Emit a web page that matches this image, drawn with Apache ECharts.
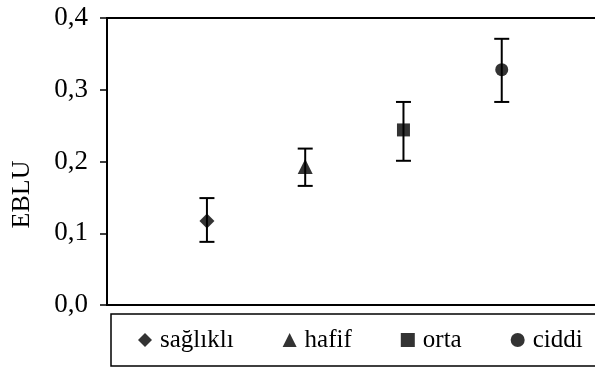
<!DOCTYPE html>
<html>
<head>
<meta charset="utf-8">
<script src="https://cdn.jsdelivr.net/npm/echarts@6/dist/echarts.min.js"></script>
<style>
html,body{margin:0;padding:0;background:#fff;}
#chart{width:595px;height:367px;}
</style>
</head>
<body>
<div id="chart"></div>
<script>
var categories = ['sağlıklı', 'hafif', 'orta', 'ciddi'];
var xPositions = [1, 2, 3, 4];
var means = [0.117, 0.193, 0.244, 0.328];
var upper = [0.149, 0.218, 0.283, 0.371];
var lower = [0.088, 0.166, 0.201, 0.283];
var symbols = ['diamond', 'triangle', 'rect', 'circle'];
var symbolSizes = [[15, 15], [15, 15], [13, 13], [13, 13]];
var yTicks = [0, 0.1, 0.2, 0.3, 0.4];

var FONT = '"Liberation Serif", "Times New Roman", serif';
var chart = echarts.init(document.getElementById('chart'), null, {renderer: 'canvas'});

var errData = categories.map(function (c, i) { return [xPositions[i], lower[i], upper[i]]; });

var series = [{
  type: 'custom',
  name: 'err',
  z: 1,
  data: errData,
  renderItem: function (params, api) {
    var x = api.value(0);
    var lo = api.coord([x, api.value(1)]);
    var hi = api.coord([x, api.value(2)]);
    var hw = 7.5;
    var st = {stroke: '#000', lineWidth: 2};
    return {
      type: 'group',
      children: [
        {type: 'line', shape: {x1: lo[0], y1: lo[1], x2: hi[0], y2: hi[1]}, style: st},
        {type: 'line', shape: {x1: hi[0] - hw, y1: hi[1], x2: hi[0] + hw, y2: hi[1]}, style: st},
        {type: 'line', shape: {x1: lo[0] - hw, y1: lo[1], x2: lo[0] + hw, y2: lo[1]}, style: st}
      ]
    };
  },
  silent: true
}];
categories.forEach(function (c, i) {
  series.push({
    type: 'scatter',
    name: c,
    z: 3,
    symbol: symbols[i],
    symbolSize: symbolSizes[i],
    itemStyle: {color: '#000'},
    data: [[xPositions[i], means[i]]]
  });
});

chart.setOption({
  animation: false,
  backgroundColor: '#fff',
  grid: {
    left: 107, top: 18, width: 493, height: 287,
    outerBoundsMode: 'none', containLabel: false,
    show: true, borderColor: '#000', borderWidth: 2, backgroundColor: 'transparent'
  },
  xAxis: {
    type: 'value', min: -0.017, max: 5,
    axisLine: {show: true, onZero: false, lineStyle: {color: '#000', width: 2}},
    axisTick: {show: false}, axisLabel: {show: false}, splitLine: {show: false}
  },
  yAxis: {
    type: 'value', min: yTicks[0], max: yTicks[yTicks.length - 1], interval: 0.1,
    name: 'EBLU', nameLocation: 'middle', nameGap: 72, nameRotate: 90,
    nameTextStyle: {fontFamily: FONT, fontSize: 26, color: '#000', padding: [0, 66, 0, 0]},
    axisLine: {show: true, onZero: false, lineStyle: {color: '#000', width: 2}},
    axisTick: {show: true, inside: false, length: 7, lineStyle: {color: '#000', width: 1.5}},
    axisLabel: {
      margin: 19, fontFamily: FONT, fontSize: 27, color: '#000',
      formatter: function (v) { return v.toFixed(1).replace('.', ','); }
    },
    splitLine: {show: false}
  },
  graphic: [{
    type: 'polyline', z: 0, silent: true,
    shape: {points: [[660, 314], [111, 314], [111, 366], [660, 366]]},
    style: {fill: null, stroke: '#000', lineWidth: 1.5}
  }],
  legend: {
    data: categories,
    left: 111, top: 314,
    width: 580,
    padding: [13, 10, 13, 27],
    itemGap: 49,
    itemWidth: 14, itemHeight: 14,
    borderWidth: 0,
    z: 5,
    textStyle: {fontFamily: FONT, fontSize: 25, lineHeight: 26, color: '#000', padding: [0, 0, 0, 3]}
  },
  series: series
});
</script>
</body>
</html>
